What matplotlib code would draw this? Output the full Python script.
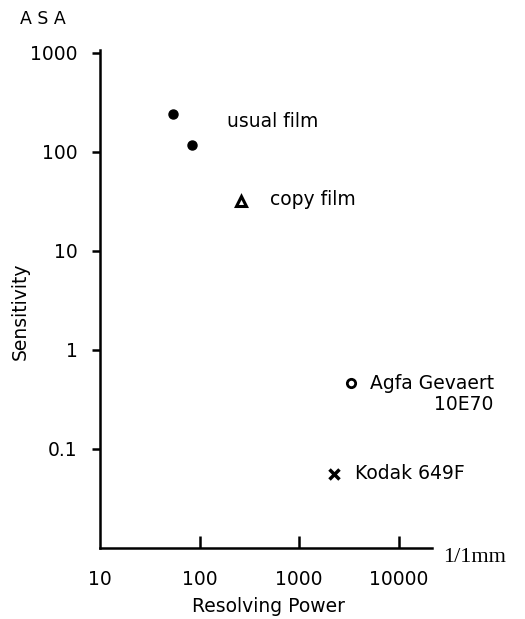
"""Sensitivity vs resolving power of photographic films (log-log)."""

import matplotlib
matplotlib.use("Agg")
import matplotlib.pyplot as plt

# -- data -----------------------------------------------------------------
usual_res = [54, 84]
usual_asa = [240, 117]
copy_res = [262]
copy_asa = [32]
agfa_res = [3300]
agfa_asa = [0.46]
kodak_res = [2250]
kodak_asa = [0.056]

xticks = [10, 100, 1000, 10000]
xlabels = ["10", "100", "1000", "10000"]
yticks = [0.1, 1, 10, 100, 1000]
ylabels = ["0.1", "1", "10", "100", "1000"]

plt.rcParams["font.family"] = ["DejaVu Sans"]

fig = plt.figure(figsize=(5.25, 6.19), dpi=100)
ax = fig.add_axes([0.1905, 0.1147, 0.632, 0.805])
ax.set_xscale("log")
ax.set_yscale("log")
ax.set_xlim(10, 21500)
ax.set_ylim(0.01, 1070)

k = "black"
ax.plot(usual_res, usual_asa, "o", color=k, ms=6.5, ls="none")
ax.plot(copy_res, copy_asa, "^", mfc="white", mec=k, mew=2.2, ms=6.5, ls="none")
ax.plot(agfa_res, agfa_asa, "o", mfc="white", mec=k, mew=2, ms=6, ls="none")
ax.plot(kodak_res, kodak_asa, "x", color=k, mew=2.5, ms=6.5, ls="none")

fs = 13.5
ax.text(189, 204, "usual film", fontsize=fs, va="center")
ax.text(515, 33, "copy film", fontsize=fs, va="center")
ax.text(5200, 0.46, "Agfa Gevaert", fontsize=fs, va="center")
ax.text(89000, 0.28, "10E70", fontsize=fs, va="center", ha="right")
ax.text(3600, 0.056, "Kodak 649F", fontsize=fs, va="center")

for s in ["top", "right"]:
    ax.spines[s].set_visible(False)
for s in ["left", "bottom"]:
    ax.spines[s].set_linewidth(1.8)

ax.minorticks_off()
ax.set_yticks(yticks)
ax.set_yticklabels(ylabels, fontsize=fs)
ax.tick_params(axis="y", direction="out", length=6, width=1.8, pad=10)
ax.set_xticks(xticks)
ax.set_xticklabels(xlabels, fontsize=fs)
ax.tick_params(axis="x", direction="in", length=9, width=1.8, pad=16)
ax.xaxis.get_major_ticks()[0].tick1line.set_visible(False)

fig.text(268 / 525, 1 - 607 / 619, "Resolving Power", fontsize=fs,
         ha="center", va="center")
fig.text(20 / 525, 1 - 311 / 619, "Sensitivity", fontsize=fs,
         ha="center", va="center", rotation=90)
fig.text(20 / 525, 1 - 19 / 619, "A S A", fontsize=12.5, va="center")
fig.text(443 / 525, 1 - 558 / 619, "1/1mm", fontsize=16, va="center",
         family="Liberation Serif")

fig.savefig("out.png", dpi=100)
